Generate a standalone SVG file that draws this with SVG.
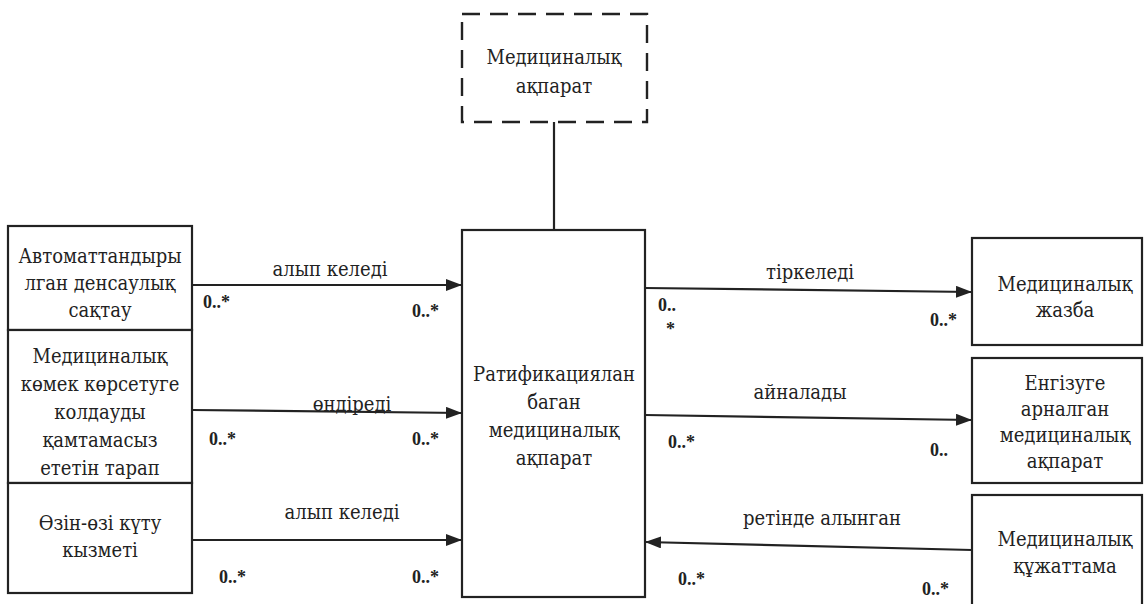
<svg xmlns="http://www.w3.org/2000/svg" width="1147" height="604" viewBox="0 0 1147 604">
<style>
.box{fill:#fff;stroke:#222;stroke-width:2.2}
.dash{fill:#fff;stroke:#222;stroke-width:2.4;stroke-dasharray:18 10}
.t{font-family:'DejaVu Serif Condensed','DejaVu Serif',serif;font-stretch:condensed;font-size:20px;fill:#222;text-anchor:middle}
.m{font-family:'Liberation Serif','DejaVu Serif',serif;font-size:18px;font-weight:bold;fill:#222}
.ln{stroke:#222;stroke-width:2.2;fill:none}
</style>
<defs>
<marker id="ah" viewBox="0 0 16 12" refX="16" refY="6" markerWidth="16" markerHeight="12" markerUnits="userSpaceOnUse" orient="auto">
<path d="M0,0 L16,6 L0,12 z" fill="#222"/>
</marker>
</defs>
<rect width="1147" height="604" fill="#fff"/>
<g id="connectors">
<line class="ln" x1="554" y1="122" x2="554" y2="230"/>
<line class="ln" x1="192" y1="285" x2="462" y2="285" marker-end="url(#ah)"/>
<line class="ln" x1="192" y1="410" x2="462" y2="413" marker-end="url(#ah)"/>
<line class="ln" x1="192" y1="540" x2="462" y2="540" marker-end="url(#ah)"/>
<line class="ln" x1="645" y1="288" x2="972" y2="292" marker-end="url(#ah)"/>
<line class="ln" x1="645" y1="415" x2="972" y2="420" marker-end="url(#ah)"/>
<line class="ln" x1="972" y1="550" x2="645" y2="542" marker-end="url(#ah)"/>
<text class="t" x="330" y="276">алып келеді</text>
<text class="t" x="352" y="411">өндіреді</text>
<text class="t" x="342" y="519">алып келеді</text>
<text class="t" x="810" y="279">тіркеледі</text>
<text class="t" x="800" y="399">айналады</text>
<text class="t" x="822" y="525">ретінде алынган</text>
<text class="m" x="203" y="308">0..*</text>
<text class="m" x="412" y="317">0..*</text>
<text class="m" x="209" y="445">0..*</text>
<text class="m" x="412" y="445">0..*</text>
<text class="m" x="219" y="583">0..*</text>
<text class="m" x="412" y="583">0..*</text>
<text class="m" x="658" y="311">0..</text>
<text class="m" x="666" y="335">*</text>
<text class="m" x="930" y="326">0..*</text>
<text class="m" x="668" y="448">0..*</text>
<text class="m" x="930" y="456">0..</text>
<text class="m" x="678" y="585">0..*</text>
<text class="m" x="922" y="595">0..*</text>
</g>
<g id="n-dashed">
<rect class="dash" x="462" y="14" width="185" height="108"/>
<text class="t" x="554" y="64">Медициналық</text>
<text class="t" x="554" y="93">ақпарат</text>
</g>
<g id="n-center">
<rect class="box" x="462" y="230" width="183" height="367"/>
<text class="t" x="554" y="381">Ратификациялан</text>
<text class="t" x="554" y="409">баган</text>
<text class="t" x="554" y="437">медициналық</text>
<text class="t" x="554" y="465">ақпарат</text>
</g>
<g id="n-left1">
<rect class="box" x="8" y="226" width="184" height="104"/>
<text class="t" x="100" y="263">Автоматтандыры</text>
<text class="t" x="100" y="290">лган денсаулық</text>
<text class="t" x="100" y="317">сақтау</text>
</g>
<g id="n-left2">
<rect class="box" x="8" y="330" width="184" height="153"/>
<text class="t" x="100" y="363">Медициналық</text>
<text class="t" x="100" y="391">көмек көрсетуге</text>
<text class="t" x="100" y="419">колдауды</text>
<text class="t" x="100" y="447">қамтамасыз</text>
<text class="t" x="100" y="475">ететін тарап</text>
</g>
<g id="n-left3">
<rect class="box" x="8" y="483" width="184" height="110"/>
<text class="t" x="100" y="530">Өзін-өзі күту</text>
<text class="t" x="100" y="557">кызметі</text>
</g>
<g id="n-right1">
<rect class="box" x="972" y="238" width="170" height="107"/>
<text class="t" x="1065" y="291">Медициналық</text>
<text class="t" x="1065" y="317">жазба</text>
</g>
<g id="n-right2">
<rect class="box" x="972" y="358" width="170" height="125"/>
<text class="t" x="1065" y="390">Енгізуге</text>
<text class="t" x="1065" y="416">арналган</text>
<text class="t" x="1065" y="442">медициналық</text>
<text class="t" x="1065" y="468">ақпарат</text>
</g>
<g id="n-right3">
<rect class="box" x="972" y="495" width="170" height="120"/>
<text class="t" x="1065" y="546">Медициналық</text>
<text class="t" x="1065" y="573">құжаттама</text>
</g>
</svg>
